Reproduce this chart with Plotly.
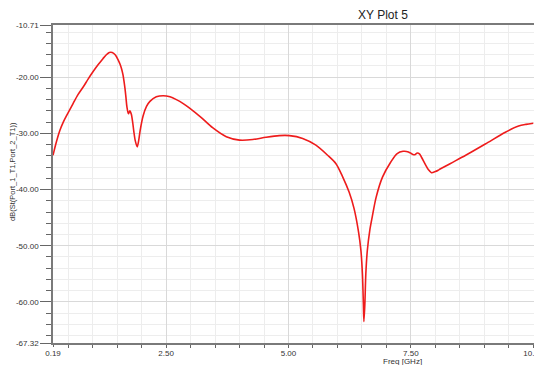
import plotly.graph_objects as go

freq_ghz = [0.19, 0.26, 0.33, 0.40, 0.47, 0.60, 0.70, 0.81, 0.91, 1.01, 1.11, 1.21, 1.28, 1.34,
            1.40, 1.46, 1.52, 1.56, 1.59, 1.62, 1.64, 1.66, 1.68, 1.70, 1.73, 1.76, 1.79, 1.82,
            1.84, 1.87, 1.91, 1.94, 1.97, 2.03, 2.10, 2.17, 2.30, 2.44, 2.58, 2.71, 2.85, 2.98,
            3.22, 3.45, 3.73, 4.00, 4.27, 4.54, 4.81, 5.02, 5.29, 5.56, 5.80, 5.97, 6.10, 6.24,
            6.34, 6.43, 6.48, 6.51, 6.53, 6.54, 6.56, 6.58, 6.61, 6.66, 6.71, 6.79, 6.92,
            7.09, 7.22, 7.34, 7.45, 7.53, 7.58, 7.63, 7.68, 7.72, 7.80, 7.86, 7.92, 8.00, 8.07,
            8.30, 8.62, 9.02, 9.43, 9.70, 9.85, 10.00]
s21_db = [-33.9, -31.5, -29.5, -28.0, -26.8, -24.7, -23.1, -21.7, -20.3, -19.0, -17.8,
          -16.7, -16.0, -15.6, -15.6, -16.0, -16.9, -17.7, -18.5, -19.6, -20.7, -22.0,
          -23.6, -25.3, -26.5, -26.0, -26.6, -28.2, -29.6, -31.3, -32.4, -31.3, -29.5,
          -26.9, -25.2, -24.3, -23.5, -23.3, -23.5, -24.0, -24.7, -25.5, -27.2, -29.0,
          -30.6, -31.2, -31.1, -30.7, -30.4, -30.4, -30.9, -32.1, -33.9, -35.4, -37.6,
          -40.5, -43.4, -47.5, -50.9, -55.0, -60.4, -63.5, -60.4, -55.0, -50.9, -47.3,
          -44.9, -41.4, -37.8, -35.1, -33.6, -33.2, -33.3, -33.7, -33.8, -33.5, -33.7,
          -34.3, -35.6, -36.5, -37.0, -36.8, -36.5, -35.4, -33.9, -31.9, -29.8, -28.7,
          -28.4, -28.2]

x_tick_vals = [0.19, 2.5, 5.0, 7.5, 10.0]
x_tick_text = ["0.19", "2.50", "5.00", "7.50", "10.00"]
y_tick_vals = [-10.71, -20, -30, -40, -50, -60, -67.32]
y_tick_text = ["-10.71", "-20.00", "-30.00", "-40.00", "-50.00", "-60.00", "-67.32"]

FONT = "Liberation Sans, Arial, sans-serif"

fig = go.Figure()
fig.add_trace(go.Scatter(x=freq_ghz, y=s21_db, mode="lines",
                         line=dict(color="#ee1c1c", width=1.6, shape="spline", smoothing=0.8),
                         showlegend=False, hoverinfo="x+y"))

fig.update_layout(
    width=534, height=365,
    margin=dict(l=53, r=0, t=25, b=22, autoexpand=False),
    paper_bgcolor="white", plot_bgcolor="white",
    font=dict(family=FONT, size=8, color="#333333"),
    xaxis=dict(range=[0.19, 10.015], tickmode="array", tickvals=x_tick_vals, ticktext=x_tick_text,
               automargin=False, ticklabeloverflow="allow",
               ticks="outside", ticklen=2, tickcolor="#666666", tickwidth=1,
               showline=True, linecolor="#7a7a7a", linewidth=1.5, mirror=True,
               showgrid=True, gridcolor="#d9d9d9", gridwidth=1, zeroline=False,
               tickfont=dict(size=8, color="#333333"),
               minor=dict(tickmode="linear", tick0=0, dtick=0.5, ticks="outside", ticklen=3,
                          tickcolor="#666666", showgrid=True, gridcolor="#ededed", gridwidth=1)),
    yaxis=dict(range=[-67.32, -10.71], tickmode="array", tickvals=y_tick_vals, ticktext=y_tick_text,
               automargin=False,
               ticks="outside", ticklen=11, tickcolor="#666666", tickwidth=1,
               showline=True, linecolor="#7a7a7a", linewidth=1.5,
               showgrid=True, gridcolor="#d9d9d9", gridwidth=1, zeroline=False,
               tickfont=dict(size=8, color="#333333"),
               minor=dict(tickmode="linear", tick0=0, dtick=2, ticks="outside", ticklen=5,
                          tickcolor="#666666", showgrid=True, gridcolor="#ededed", gridwidth=1)),
    annotations=[
        dict(text="XY Plot 5", xref="paper", yref="paper", x=0.686, y=1.031,
             xanchor="center", yanchor="middle", showarrow=False,
             font=dict(family=FONT, size=12, color="#222222")),
        dict(text="Freq [GHz]", xref="paper", yref="paper", x=0.7256, y=-0.059,
             xanchor="center", yanchor="middle", showarrow=False,
             font=dict(family=FONT, size=8, color="#333333")),
        dict(text="dB(St(Port_1_T1,Port_2_T1))", xref="paper", yref="paper", x=-0.0832, y=0.541,
             xanchor="center", yanchor="middle", showarrow=False, textangle=-90,
             font=dict(family=FONT, size=7.5, color="#333333")),
    ],
)

fig.write_html("out.html", config={"displayModeBar": False},
               post_script="document.body.style.margin='0';document.body.style.overflow='hidden';")
